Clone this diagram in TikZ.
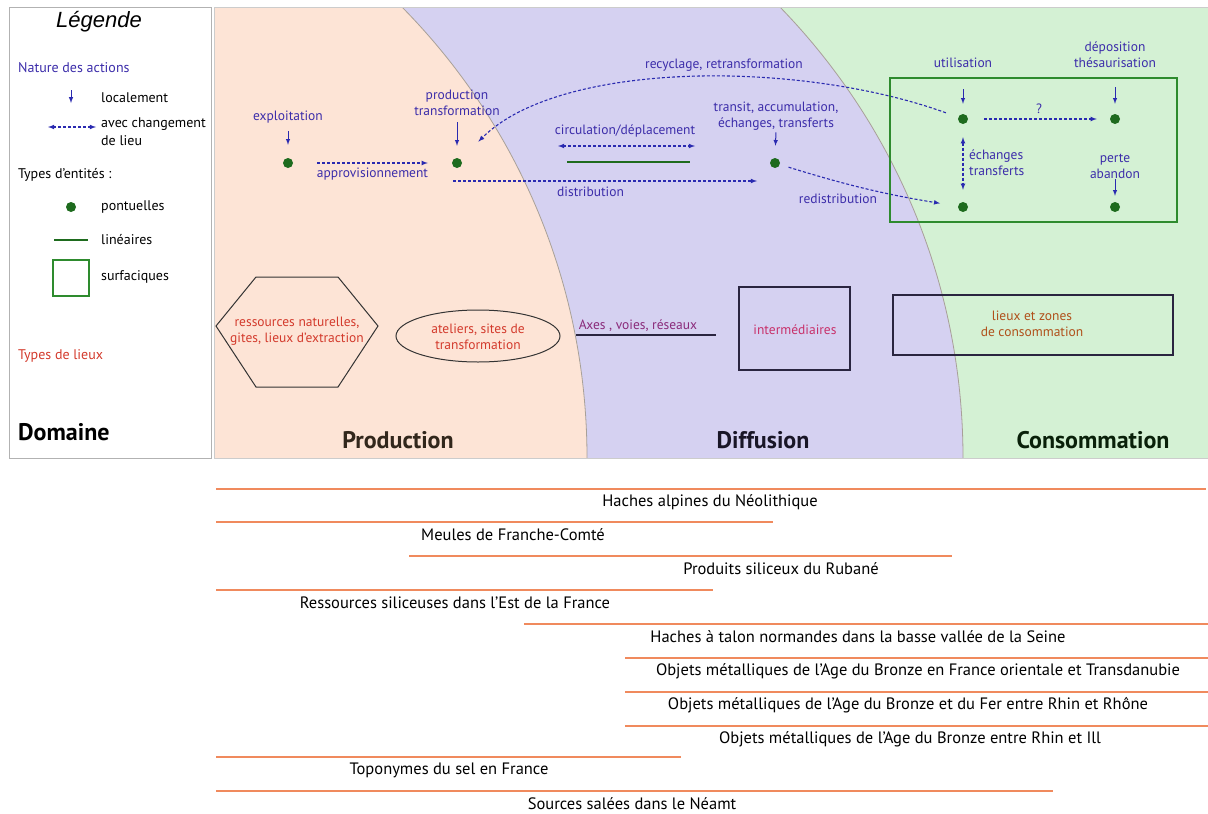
\documentclass[tikz,border=0pt]{standalone}
\usepackage{fontspec}
\setmainfont{PT Sans}
\newfontfamily\legfont{Liberation Sans}
\usetikzlibrary{calc}

\definecolor{prodfill}{HTML}{FDE4D6}
\definecolor{difffill}{HTML}{D5D1F1}
\definecolor{consfill}{HTML}{D4F1D4}
\definecolor{limite}{HTML}{A8A098}
\definecolor{actblue}{HTML}{3C2DAA}
\definecolor{arrblue}{HTML}{2A2AB0}
\definecolor{dotgreen}{HTML}{1E6B1E}
\definecolor{boxgreen}{HTML}{2E8B2E}
\definecolor{lieured}{HTML}{D33A2C}
\definecolor{axepurple}{HTML}{8A2A7A}
\definecolor{intermag}{HTML}{C8306A}
\definecolor{consbrown}{HTML}{B0501A}
\definecolor{contour}{HTML}{2A2540}
\definecolor{barorange}{HTML}{F08A5D}

\tikzset{
  pdot/.style={circle, fill=dotgreen, inner sep=0pt, minimum size=10pt},
  lbl/.style={font=\fontsize{13.5}{16}\selectfont, text=actblue, align=center, inner sep=1pt},
  leglbl/.style={font=\fontsize{14}{18}\selectfont, anchor=west, inner sep=0pt, align=left},
  localarrow/.style={->, arrblue, line width=1pt},
  movearrow/.style={->, arrblue, line width=1.1pt, dash pattern=on 3pt off 2pt},
  lieulbl/.style={font=\fontsize{13.5}{16}\selectfont, align=center, inner sep=1pt},
  domlbl/.style={font=\fontsize{24}{26}\selectfont\bfseries, inner sep=0pt},
  bar/.style={barorange, line width=1.6pt},
  barlbl/.style={font=\fontsize{16.5}{18}\selectfont, inner sep=0pt},
}

\begin{document}
\begin{tikzpicture}[x=1pt, y=-1pt, >=latex]
\useasboundingbox (0,0) rectangle (1208,814);

% legende
\draw[gray!60, line width=0.8pt] (9,7) rectangle (211,458);
\node[font=\legfont\fontsize{22}{24}\selectfont\itshape, inner sep=0pt] (legtitre) at (99,22) {Légende};
\node[leglbl, text=actblue] (natact) at (18,68) {Nature des actions};
\draw[localarrow] (71,90) -- (71,103);
\node[leglbl] (loclbl) at (101,98) {localement};
\draw[movearrow, <->] (48,127) -- (96,127);
\node[leglbl, anchor=north west] (chglbl) at (101,117) {avec changement\\de lieu};
\node[leglbl] (typent) at (18,175) {Types d'entités :};
\node[pdot] (legdot) at (71,207) {};
\node[leglbl] (pontlbl) at (101,207) {pontuelles};
\draw[dotgreen, line width=2.4pt] (54,240) -- (88,240);
\node[leglbl] (linlbl) at (101,240) {linéaires};
\draw[boxgreen, line width=2.2pt] (53,260) rectangle (89,296);
\node[leglbl] (surflbl) at (101,277) {surfaciques};
\node[leglbl, text=lieured] (typlieux) at (18,356) {Types de lieux};
\node[domlbl, anchor=west] (domaine) at (18,432) {Domaine};

% domaines
\begin{scope}
  \clip (214,7) rectangle (1208,458);
  \fill[consfill] (214,7) rectangle (1208,458);
  \fill[difffill] (316,458) circle (647);
  \draw[limite, line width=0.8pt] (316,458) circle (647);
  \fill[prodfill] (-55,458) circle (642);
  \draw[limite, line width=0.8pt] (-55,458) circle (642);
\end{scope}
\draw[gray!40, line width=0.8pt] (214,7) rectangle (1208,458);

% entites ponctuelles
\node[pdot] (expl) at (288,163) {};
\node[pdot] (prod) at (457,163) {};
\node[pdot] (transit) at (775,163) {};
\node[pdot] (util) at (963,119) {};
\node[pdot] (depo) at (1115,119) {};
\node[pdot] (echg) at (963,207) {};
\node[pdot] (perte) at (1115,207) {};

\node[lbl] (expllbl) at (288,117) {exploitation};
\node[lbl] (prodlbl) at (457,103) {production\\transformation};
\node[lbl] (translbl) at (776,116) {transit, accumulation,\\échanges, transferts};
\node[lbl] (utillbl) at (963,63) {utilisation};
\node[lbl] (depolbl) at (1115,55) {déposition\\thésaurisation};
\node[lbl] (pertelbl) at (1115,166) {perte\\abandon};

\draw[localarrow, shorten <=7pt, shorten >=13pt] (expllbl.south) -- (expl.north);
\draw[localarrow, shorten <=5pt, shorten >=12pt] (prodlbl.south) -- (prod.north);
\draw[localarrow, shorten <=1pt, shorten >=12pt] (translbl.south) -- (transit.north);
\draw[localarrow, shorten <=20pt, shorten >=10pt] (utillbl.south) -- (util.north);
\draw[localarrow, shorten <=18pt, shorten >=10pt] (depolbl.south) -- (depo.north);
\draw[localarrow, shorten <=0pt, shorten >=6pt] (pertelbl.south) -- (perte.north);

% deplacements
\draw[movearrow, shorten <=24pt, shorten >=24pt] (expl) -- (prod)
  node[lbl, midway, below=3pt] (approlbl) {approvisionnement};
\draw[movearrow, shorten <=-4pt, shorten >=18pt] ([yshift=-18pt]prod.center) -- ([yshift=-18pt]transit.center)
  node[lbl, pos=0.42, below=4pt] (distlbl) {distribution};
\draw[movearrow] (util) .. controls (800,60) and (560,60) .. (prod)
  [shorten <=13pt, shorten >=25pt];
\node[lbl] (recylbl) at (724,65) {recyclage, retransformation};
\draw[movearrow, shorten <=9pt, shorten >=18pt] (transit) to[bend right=4] (echg);
\node[lbl] (redistlbl) at (838,199) {redistribution};
\draw[movearrow, shorten <=16pt, shorten >=13pt] (util) -- (depo)
  node[lbl, midway, above=4pt] (qlbl) {?};
\draw[movearrow, <->, shorten <=13pt, shorten >=12pt] (util) -- (echg);
\node[lbl, align=left, anchor=west] (echglbl) at (968,163) {échanges\\transferts};

% circulation
\node[lbl] (circlbl) at (625,131) {circulation/déplacement};
\draw[movearrow, <->] (558,146) -- (695,146);
\draw[dotgreen, line width=2.4pt] (567,162) -- (690,162);

% zone de consommation
\draw[boxgreen, line width=2.4pt] (890,78) rectangle (1177,222);

% types de lieux
\draw[black!80, line width=1pt] (216,326) -- (256,277) -- (338,277) -- (378,326) -- (338,387) -- (256,387) -- cycle;
\node[lieulbl, text=lieured] (ressource) at (297,331) {ressources naturelles,\\gites, lieux d'extraction};
\draw[black!80, line width=1pt] (478,336) ellipse (82 and 26);
\node[lieulbl, text=lieured] (atelier) at (478,337) {ateliers, sites de\\transformation};
\node[lieulbl, text=axepurple] (axes) at (638,326) {Axes , voies, réseaux};
\draw[contour, line width=1.2pt] (576,335) -- (716,335);
\draw[contour, line width=1.2pt] (739,287) rectangle (850,370);
\node[lieulbl, text=intermag] (interm) at (795,330) {intermédiaires};
\draw[contour, line width=1.2pt] (893,295) rectangle (1173,355);
\node[lieulbl, text=consbrown] (conszone) at (1032,324) {lieux et zones\\de consommation};

\node[domlbl, text=prodfill!10!black!85!brown] (prodname) at (398,440) {Production};
\node[domlbl, text=contour!60!black] (diffname) at (763,440) {Diffusion};
\node[domlbl, text=dotgreen!30!black] (consname) at (1093,440) {Consommation};

% exemples
\foreach \xa/\xb/\yy/\xt/\txt in {
  216/1206/489/710/Haches alpines du Néolithique,
  216/773/522/513/Meules de Franche-Comté,
  409/952/556/781/Produits siliceux du Rubané,
  216/713/590/455/Ressources siliceuses dans l'Est de la France,
  524/1208/624/858/Haches à talon normandes dans la basse vallée de la Seine,
  625/1208/658/918/Objets métalliques de l'Age du Bronze en France orientale et Transdanubie,
  625/1208/692/908/Objets métalliques de l'Age du Bronze et du Fer entre Rhin et Rhône,
  625/1208/726/910/Objets métalliques de l'Age du Bronze entre Rhin et Ill,
  216/681/757/449/Toponymes du sel en France,
  216/1053/791/632/Sources salées dans le Néamt}
{
  \draw[bar] (\xa,\yy) -- (\xb,\yy);
  \node[barlbl] (ex\yy) at (\xt,\yy+13) {\txt};
}
\end{tikzpicture}
\end{document}
